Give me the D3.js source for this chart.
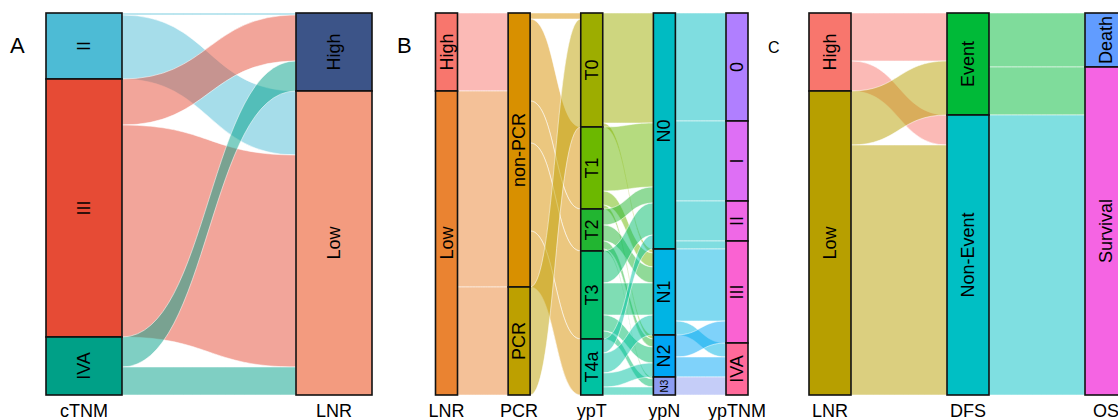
<!DOCTYPE html>
<html><head><meta charset="utf-8">
<script src="https://cdn.jsdelivr.net/npm/d3@7"></script>
<style>
body{margin:0;background:#fff;}
svg{display:block;}
text{font-family:"Liberation Sans",Arial,Helvetica,sans-serif;fill:#000;}
</style>
</head><body>
<svg id="chart" width="1118" height="420"></svg>
<script>
// ---------------- Panel A ----------------
const axesA = ["cTNM", "LNR"];
const cTNMLevels = ["II", "III", "IVA"];
const lnrLevels = ["High", "Low"];
const cTNM_to_LNR = [[1, 32], [23, 106], [15, 14]];

// ---------------- Panel B ----------------
const axesB = ["LNR", "PCR", "ypT", "ypN", "ypTNM"];
const pcrLevels = ["non-PCR", "PCR"];
const ypTLevels = ["T0", "T1", "T2", "T3", "T4a"];
const ypNLevels = ["N0", "N1", "N2", "N3"];
const ypTNMLevels = ["0", "I", "II", "III", "IVA"];
const LNR_to_PCR = [[39, 0], [98, 54]];
const PCR_to_ypT = [[3, 41, 21, 44, 28], [54, 0, 0, 0, 0]];
const ypT_to_ypN = [[55, 2, 0, 0], [32, 7, 2, 0], [8, 8, 4, 1], [16, 16, 8, 4], [7, 10, 7, 4]];
const ypN_to_ypTNM = [[54, 40, 20, 4, 0], [0, 0, 0, 36, 7], [0, 0, 0, 11, 10], [0, 0, 0, 0, 9]];

// ---------------- Panel C ----------------
const axesC = ["LNR", "DFS", "OS"];
const dfsLevels = ["Event", "Non-Event"];
const osLevels = ["Death", "Survival"];
const LNR_to_DFS = [[24, 15], [27, 125]];
const DFS_to_OS = [[27, 24], [0, 140]];

// ---------------- Styles ----------------
const colorsA = [["#4DBBD5", "#E64B35", "#00A087"], ["#3C5488", "#F39B7F"]];
const colorsB = [
  ["#F8766D", "#EA8331"],
  ["#D89000", "#BDA000"],
  ["#9DAD00", "#6CB800", "#22B531", "#00BC6A", "#00C2A2"],
  ["#00BBC2", "#00B4E4", "#00A6F5", "#8C9CF2"],
  ["#B07FFF", "#DE6FF5", "#EF68E6", "#FA62D2", "#FF6A9A"]
];
const colorsC = [["#F8766D", "#B79F00"], ["#00BA38", "#00BFC4"], ["#619CFF", "#F564E3"]];

const svg = d3.select("#chart");
const flowLayer = svg.append("g");
const strataLayer = svg.append("g");
const textLayer = svg.append("g");

function alluvial(axes, strata, mats, xRange, barW, colors) {
  const x = d3.scalePoint().domain(axes).range(xRange);
  const totals = strata.map((s, i) => i === 0
    ? mats[0].map(r => d3.sum(r))
    : s.map((_, j) => d3.sum(mats[i - 1], r => r[j])));
  const N = d3.sum(totals[0]);
  const y = d3.scaleLinear().domain([0, N]).range([13, 395]);
  const starts = totals.map(t => { let c = 0; return t.map(v => { const s = c; c += v; return s; }); });

  mats.forEach((m, k) => {
    const x0 = x(axes[k]) + barW / 2, x1 = x(axes[k + 1]) - barW / 2, xm = (x0 + x1) / 2;
    const flows = [];
    m.forEach((row, i) => row.forEach((v, j) => {
      if (v <= 0) return;
      const os = starts[k][i] + d3.sum(row.slice(0, j));
      const is = starts[k + 1][j] + d3.sum(m.slice(0, i), r => r[j]);
      flows.push({ i, j, v, os, is });
    }));
    flowLayer.selectAll(null).data(flows).enter().append("path")
      .attr("d", f => {
        const a0 = y(f.os), a1 = y(f.os + f.v), b0 = y(f.is), b1 = y(f.is + f.v);
        return `M${x0},${a0}C${xm},${a0} ${xm},${b0} ${x1},${b0}L${x1},${b1}C${xm},${b1} ${xm},${a1} ${x0},${a1}Z`;
      })
      .attr("fill", f => colors[k][f.i])
      .attr("fill-opacity", 0.5)
      .attr("stroke", "#fff")
      .attr("stroke-width", 0.7)
      .attr("stroke-opacity", 0.75);
  });

  strata.forEach((levels, a) => {
    const cx = x(axes[a]);
    levels.forEach((lab, i) => {
      const yt = y(starts[a][i]), yb = y(starts[a][i] + totals[a][i]);
      strataLayer.append("rect")
        .attr("x", cx - barW / 2).attr("y", yt)
        .attr("width", barW).attr("height", yb - yt)
        .attr("fill", colors[a][i]).attr("stroke", "#111").attr("stroke-width", 1.6);
      const h = yb - yt;
      const fs = h < 25 ? 10 : 18;
      textLayer.append("text")
        .attr("transform", `translate(${cx},${(yt + yb) / 2}) rotate(-90)`)
        .attr("text-anchor", "middle").attr("dominant-baseline", "central")
        .attr("font-size", fs).text(lab);
    });
    textLayer.append("text")
      .attr("x", cx).attr("y", 417).attr("text-anchor", "middle")
      .attr("font-size", 18).text(axes[a]);
  });
}

alluvial(axesA, [cTNMLevels, lnrLevels], [cTNM_to_LNR], [84, 334], 76, colorsA);
alluvial(axesB, [lnrLevels, pcrLevels, ypTLevels, ypNLevels, ypTNMLevels],
  [LNR_to_PCR, PCR_to_ypT, ypT_to_ypN, ypN_to_ypTNM], [446.5, 737], 22, colorsB);
alluvial(axesC, [lnrLevels, dfsLevels, osLevels], [LNR_to_DFS, DFS_to_OS], [830, 1106], 42, colorsC);

textLayer.append("text").attr("x", 10).attr("y", 53).attr("font-size", 22).text("A");
textLayer.append("text").attr("x", 397).attr("y", 53).attr("font-size", 22).text("B");
textLayer.append("text").attr("x", 768).attr("y", 53).attr("font-size", 16).text("C");
</script>
</body></html>
